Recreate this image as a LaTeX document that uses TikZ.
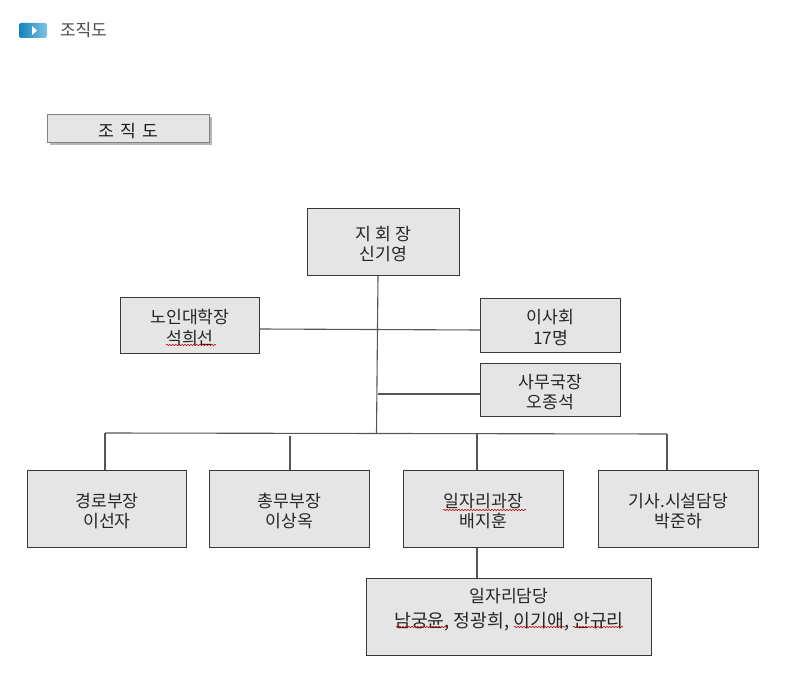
\documentclass[tikz,border=0pt]{standalone}
\usepackage{fontspec}
\setmainfont{Noto Sans CJK KR}
\usetikzlibrary{decorations.pathmorphing,shadows}
\definecolor{boxfill}{RGB}{229,229,229}
\definecolor{boxline}{RGB}{56,56,56}
\definecolor{iconL}{RGB}{20,130,185}
\definecolor{iconR}{RGB}{130,195,225}
\tikzset{
  x=1pt,y=-1pt,
  orgbox/.style={draw=boxline,line width=1.1pt,fill=boxfill,align=center,inner sep=0pt,
    font=\fontsize{17.2}{20.5}\selectfont,text=black!85},
  link/.style={draw=boxline!85,line width=1.1pt},
  squiggle/.style={draw=red!70!black,line width=.6pt,decorate,
    decoration={snake,amplitude=.6pt,segment length=3pt}},
}
\newcommand{\orgnode}[7]{\node[orgbox,minimum width=#4pt-#3pt-1pt,minimum height=#6pt-#5pt-1pt,#7] (#1) at ({(#3+#4)/2},{(#5+#6)/2}) {\rule{0pt}{18pt}#2};}
\begin{document}
\begin{tikzpicture}
\useasboundingbox (0,0) rectangle (800,700);
% header
\node[rounded corners=2pt,left color=iconL,right color=iconR,minimum width=28pt,minimum height=15pt,inner sep=0pt] (icon) at (33,30.5) {};
\fill[white] (32,26) -- (37,30.5) -- (32,35) -- cycle;
\node[font=\fontsize{17}{20}\selectfont,text=black!70,inner sep=0pt] (head) at (83.5,30.5) {조직도};
% title box
\node[draw=black!50,line width=.9pt,fill=boxfill,minimum width=162pt,minimum height=28pt,inner sep=0pt,
  font=\fontsize{17.2}{20}\selectfont,text=black!90,
  drop shadow={shadow xshift=2.5pt,shadow yshift=-2.5pt,fill=black!40,opacity=.7}] (title) at (128.5,128.5) {\rule{0pt}{18.5pt}조\hspace{2pt} 직\hspace{2pt} 도};
% connectors
\coordinate (busL) at (105,433);
\coordinate (busR) at (667,434);
\coordinate (busM) at (376.5,433);
\coordinate (jointA) at (378,394);
\coordinate (t2) at (290,436);
\coordinate (t3) at (477,434);
% boxes
\orgnode{chief}{지 회 장\\신기영}{307}{460}{208}{276}{}
\orgnode{univ}{노인대학장\\석희선}{120}{260}{297}{354}{}
\orgnode{board}{이사회\\17명}{480}{621}{298}{353}{}
\orgnode{office}{사무국장\\오종석}{484}{621}{363}{417}{minimum width=140pt,xshift=-2pt,text width=132pt}
\orgnode{d1}{경로부장\\이선자}{27}{187}{470}{548}{}
\orgnode{d2}{총무부장\\이상옥}{209}{370}{470}{548}{}
\orgnode{d3}{일자리과장\\배지훈}{403}{564}{470}{548}{}
\orgnode{d4}{기사.시설담당\\박준하}{598}{759}{470}{548}{}
\node[orgbox,minimum width=285pt,minimum height=77pt] (staff) at (509,617)
  {\rule{0pt}{18.5pt}일자리담당\\[4.5pt]\fontsize{18.3}{21}\selectfont 남궁윤, 정광희, 이기애, 안규리\\[0pt]\rule{0pt}{19pt}};
% links
\draw[link] (chief.south -| 378,0) -- (busM);
\draw[link] (univ.east |- 0,329) -- (board.west |- 0,330);
\draw[link] (jointA) -- (office.west |- jointA);
\draw[link] (busL) -- (busR);
\draw[link] (busL) -- (busL |- d1.north);
\draw[link] (t2) -- (t2 |- d2.north);
\draw[link] (t3) -- (t3 |- d3.north);
\draw[link] (busR) -- (busR |- d4.north);
\draw[link] (t3 |- d3.south) -- (t3 |- staff.north);
% spell-check underlines
\draw[squiggle] (166,345) -- (216,345);
\draw[squiggle] (443,510) -- (526,510);
\draw[squiggle] (396,627) -- (447,627);
\draw[squiggle] (514,627) -- (565,627);
\draw[squiggle] (573,627) -- (623,627);
\end{tikzpicture}
\end{document}
